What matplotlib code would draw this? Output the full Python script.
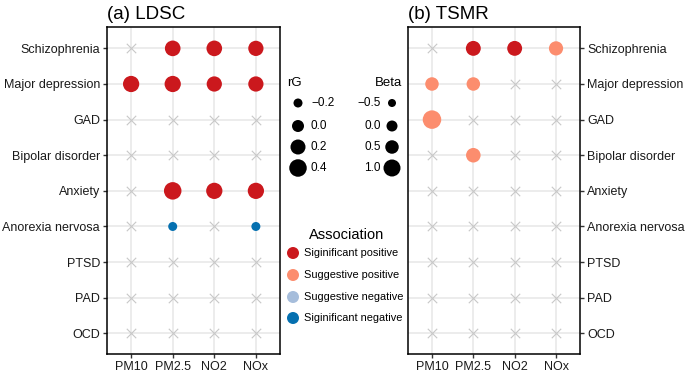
import numpy as np
import matplotlib
matplotlib.use('Agg')
import matplotlib.pyplot as plt

plt.rcParams['font.family'] = ['Liberation Sans', 'DejaVu Sans']

traits = ['Schizophrenia', 'Major depression', 'GAD', 'Bipolar disorder', 'Anxiety',
          'Anorexia nervosa', 'PTSD', 'PAD', 'OCD']
exposures = ['PM10', 'PM2.5', 'NO2', 'NOx']

# LDSC genetic correlation (NaN = not associated, drawn as a cross)
nan = np.nan
ldsc_rg = [
    [nan, 0.25, 0.25, 0.22],    # Schizophrenia
    [0.3, 0.3, 0.22, 0.22],     # Major depression
    [nan, nan, nan, nan],       # GAD
    [nan, nan, nan, nan],       # Bipolar disorder
    [nan, 0.4, 0.3, 0.3],       # Anxiety
    [nan, -0.2, nan, -0.2],     # Anorexia nervosa
    [nan, nan, nan, nan],
    [nan, nan, nan, nan],
    [nan, nan, nan, nan],
]
ldsc_assoc = [
    [None, 'sp', 'sp', 'sp'],
    ['sp', 'sp', 'sp', 'sp'],
    [None] * 4,
    [None] * 4,
    [None, 'sp', 'sp', 'sp'],
    [None, 'sn', None, 'sn'],
    [None] * 4,
    [None] * 4,
    [None] * 4,
]

# TSMR beta
tsmr_beta = [
    [nan, 0.7, 0.7, 0.6],
    [0.5, 0.5, nan, nan],
    [1.1, nan, nan, nan],
    [nan, 0.65, nan, nan],
    [nan, nan, nan, nan],
    [nan, nan, nan, nan],
    [nan, nan, nan, nan],
    [nan, nan, nan, nan],
    [nan, nan, nan, nan],
]
tsmr_assoc = [
    [None, 'sp', 'sp', 'gp'],
    ['gp', 'gp', None, None],
    ['gp', None, None, None],
    [None, 'gp', None, None],
    [None] * 4,
    [None] * 4,
    [None] * 4,
    [None] * 4,
    [None] * 4,
]

assoc_keys = ['sp', 'gp', 'gn', 'sn']
assoc_labels = ['Siginificant positive', 'Suggestive positive',
                'Suggestive negative', 'Siginificant negative']
assoc_colors = {'sp': '#CB181D', 'gp': '#FC8D6E', 'gn': '#A6BDDB', 'sn': '#0570B0'}

rg_breaks = [-0.2, 0.0, 0.2, 0.4]
beta_breaks = [-0.5, 0.0, 0.5, 1.0]
rg_diam = [9, 12, 15, 17.5]      # px
beta_diam = [8, 11, 13.5, 17]


def size_of(v, breaks, diams):
    d = np.interp(v, breaks, diams, left=diams[0] - 2, right=diams[-1] + 1.5)
    return (d * 0.72) ** 2


fig = plt.figure(figsize=(6.85, 3.76), dpi=100)
ax1 = fig.add_axes([107 / 685, 1 - 354 / 376, 173 / 685, 327 / 376])
ax2 = fig.add_axes([408 / 685, 1 - 354 / 376, 172 / 685, 327 / 376])


def draw_panel(ax, vals, assoc, breaks, diams, title, right=False):
    nrow = len(traits)
    ypos = np.arange(nrow)[::-1] + 1
    xpos = np.arange(len(exposures)) + 1
    for i in range(nrow):
        for j in range(len(exposures)):
            v = vals[i][j]
            if np.isnan(v):
                ax.scatter(xpos[j], ypos[i], marker='x', s=46, color='#C8C8C8',
                           linewidths=0.8, zorder=3)
            else:
                ax.scatter(xpos[j], ypos[i], s=size_of(v, breaks, diams),
                           color=assoc_colors[assoc[i][j]], edgecolors='none', zorder=4)
    ax.set_xlim(0.42, 4.58)
    ax.set_ylim(0.42, 9.6)
    ax.set_xticks(xpos)
    ax.set_xticklabels(exposures, fontsize=9, color='#1A1A1A')
    ax.set_yticks(ypos)
    ax.set_yticklabels(traits, fontsize=9, color='#1A1A1A')
    ax.grid(True, color='#EBEBEB', linewidth=1.3, zorder=0)
    ax.set_axisbelow(True)
    ax.tick_params(length=3, width=1.0, color='#333333', pad=2)
    for s in ax.spines.values():
        s.set_linewidth(1.1)
        s.set_color('black')
    if right:
        ax.yaxis.tick_right()
    ax.set_title(title, loc='left', fontsize=13.5, pad=6)


draw_panel(ax1, ldsc_rg, ldsc_assoc, rg_breaks, rg_diam, '(a) LDSC')
draw_panel(ax2, tsmr_beta, tsmr_assoc, beta_breaks, beta_diam, '(b) TSMR', right=True)

# legends drawn in a pixel-coordinate overlay
lax = fig.add_axes([0, 0, 1, 1], zorder=5)
lax.set_xlim(0, 685)
lax.set_ylim(376, 0)
lax.axis('off')

key_y = [103, 126, 147, 168]
lax.text(287, 83, 'rG', fontsize=9.5, ha='left', va='center')
for b, y in zip(rg_breaks, key_y):
    lax.scatter(298, y, s=size_of(b, rg_breaks, rg_diam), color='black', edgecolors='none')
    lax.text(311, y, f'{b:.1f}'.replace('-', '\u2212'), fontsize=8.5, ha='left', va='center')

lax.text(402, 83, 'Beta', fontsize=9.5, ha='right', va='center')
for b, y in zip(beta_breaks, key_y):
    lax.scatter(392, y, s=size_of(b, beta_breaks, beta_diam), color='black', edgecolors='none')
    lax.text(381, y, f'{b:.1f}'.replace('-', '\u2212'), fontsize=8.5, ha='right', va='center')

lax.text(347, 235, 'Association', fontsize=10.5, ha='center', va='center')
for k, lab, y in zip(assoc_keys, assoc_labels, [253, 275, 297, 318]):
    lax.scatter(293, y, s=(12 * 0.72) ** 2, color=assoc_colors[k], edgecolors='none')
    lax.text(304, y, lab, fontsize=7.9, ha='left', va='center')

fig.savefig('out.png', dpi=100)
